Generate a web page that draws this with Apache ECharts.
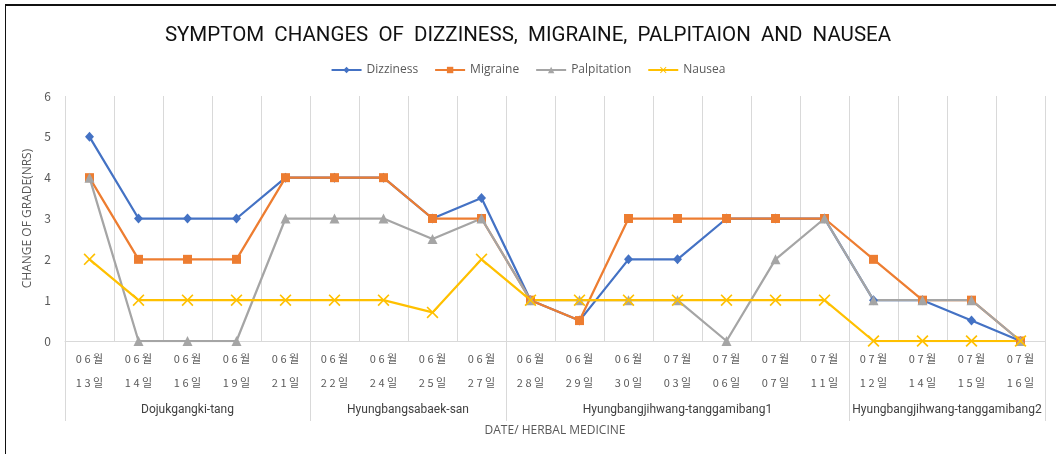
<!DOCTYPE html>
<html>
<head>
<meta charset="utf-8">
<script src="https://cdn.jsdelivr.net/npm/echarts@6/dist/echarts.min.js"></script>
<style>
  html, body { margin: 0; padding: 0; background: #fff; }
  #frame {
    position: absolute; left: 5px; top: 4px; right: 0; bottom: 0;
    border-top: 2px solid #111; border-left: 1px solid #111;
  }
  #chart { position: absolute; left: 0; top: 0; width: 1056px; height: 454px; }
</style>
</head>
<body>
<div id="frame"></div>
<div id="chart"></div>
<script>
// dates (x categories)
const dates = [
  '06월 13일', '06월 14일', '06월 16일', '06월 19일', '06월 21일',
  '06월 22일', '06월 24일', '06월 25일', '06월 27일',
  '06월 28일', '06월 29일', '06월 30일', '07월 03일', '07월 06일', '07월 07일', '07월 11일',
  '07월 12일', '07월 14일', '07월 15일', '07월 16일'
]

// herbal medicine groups and how many dates each spans
const groupNames = [
  'Dojukgangki-tang',
  'Hyungbangsabaek-san',
  'Hyungbangjihwang-tanggamibang1',
  'Hyungbangjihwang-tanggamibang2'
]
const groupSpans = [5, 4, 7, 4]

// symptom grades (NRS)
const dizziness   = [5, 3, 3, 3, 4, 4, 4, 3, 3.5, 1, 0.5, 2, 2, 3, 3, 3, 1, 1, 0.5, 0]
const migraine    = [4, 2, 2, 2, 4, 4, 4, 3, 3, 1, 0.5, 3, 3, 3, 3, 3, 2, 1, 1, 0]
const palpitation = [4, 0, 0, 0, 3, 3, 3, 2.5, 3, 1, 1, 1, 1, 0, 2, 3, 1, 1, 1, 0]
const nausea      = [2, 1, 1, 1, 1, 1, 1, 0.7, 2, 1, 1, 1, 1, 1, 1, 1, 0, 0, 0, 0]

const yTicks = [0, 1, 2, 3, 4, 5, 6]

// 그룹 축: 반 칸 단위 (0 ~ 2*N)
const halfCount = dates.length * 2
const groupAxisData = []
const groupLabelAt = {}
const groupEdgeAt = new Set([0])
let start = 0
groupSpans.forEach((span, i) => {
  groupLabelAt[start * 2 + span] = groupNames[i]
  start += span
  groupEdgeAt.add(start * 2)
})
for (let i = 0; i <= halfCount; i++) groupAxisData.push(groupLabelAt[i] || '')

const spaced = s => s.split('').join(' ').replace(/ (월|일)/g, ' $1')

const chart = echarts.init(document.getElementById('chart'))
const gray = '#595959'
const gridLine = '#d9d9d9'
const font = 'Noto Sans CJK KR'

const xMark = 'path://M0,1L1,0L5,4L9,0L10,1L6,5L10,9L9,10L5,6L1,10L0,9L4,5Z'

const mkSeries = (name, data, color, symbol, size) => ({
  name,
  type: 'line',
  data,
  symbol,
  symbolSize: size,
  lineStyle: { color, width: 2.25 },
  itemStyle: { color },
  animation: false
})

chart.setOption({
  animation: false,
  textStyle: { fontFamily: font },
  title: {
    text: 'SYMPTOM  CHANGES  OF  DIZZINESS,  MIGRAINE,  PALPITAION  AND  NAUSEA',
    left: 'center',
    top: 20,
    textStyle: { fontFamily: 'Roboto', fontSize: 20.5, fontWeight: 'normal', color: '#111' }
  },
  legend: {
    top: 59,
    left: 'center',
    itemWidth: 30,
    itemHeight: 8,
    itemGap: 16,
    textStyle: { color: gray, fontSize: 12, fontFamily: 'Open Sans' },
    data: ['Dizziness', 'Migraine', 'Palpitation', 'Nausea']
  },
  grid: { left: 65, right: 11, top: 96, bottom: 113 },
  xAxis: [
    {
      type: 'category',
      data: dates,
      boundaryGap: true,
      axisLine: { lineStyle: { color: gridLine, width: 1 } },
      axisTick: { show: false },
      splitLine: { show: true, lineStyle: { color: gridLine } },
      axisLabel: {
        interval: 0,
        color: gray,
        fontSize: 11,
        lineHeight: 24,
        margin: 6,
        formatter: v => v.split(' ').map(spaced).join('\n')
      }
    },
    {
      type: 'category',
      data: groupAxisData,
      boundaryGap: false,
      position: 'bottom',
      offset: 0,
      axisLine: { show: false },
      axisTick: {
        show: true,
        length: 80,
        interval: i => groupEdgeAt.has(i),
        lineStyle: { color: gridLine }
      },
      axisLabel: {
        interval: 0,
        color: '#404040',
        fontSize: 12,
        fontFamily: 'Roboto',
        margin: 63,
        formatter: v => v
      },
      name: 'DATE/ HERBAL MEDICINE',
      nameLocation: 'middle',
      nameGap: 84,
      nameTextStyle: { color: gray, fontSize: 12, fontFamily: 'Open Sans' }
    }
  ],
  yAxis: {
    type: 'value',
    min: yTicks[0],
    max: yTicks[yTicks.length - 1],
    interval: 1,
    axisLine: { show: false },
    axisTick: { show: false },
    splitLine: { show: false },
    axisLabel: { color: gray, fontSize: 12, margin: 14 },
    name: 'CHANGE OF GRADE(NRS)',
    nameLocation: 'middle',
    nameGap: 19,
    nameTextStyle: { color: gray, fontSize: 12, fontFamily: 'Open Sans' }
  },
  series: [
    mkSeries('Dizziness', dizziness, '#4472C4', 'diamond', [9, 10]),
    mkSeries('Migraine', migraine, '#ED7D31', 'rect', 9),
    mkSeries('Palpitation', palpitation, '#A5A5A5', 'triangle', 10),
    mkSeries('Nausea', nausea, '#FFC000', xMark, 12)
  ]
})
</script>
</body>
</html>
